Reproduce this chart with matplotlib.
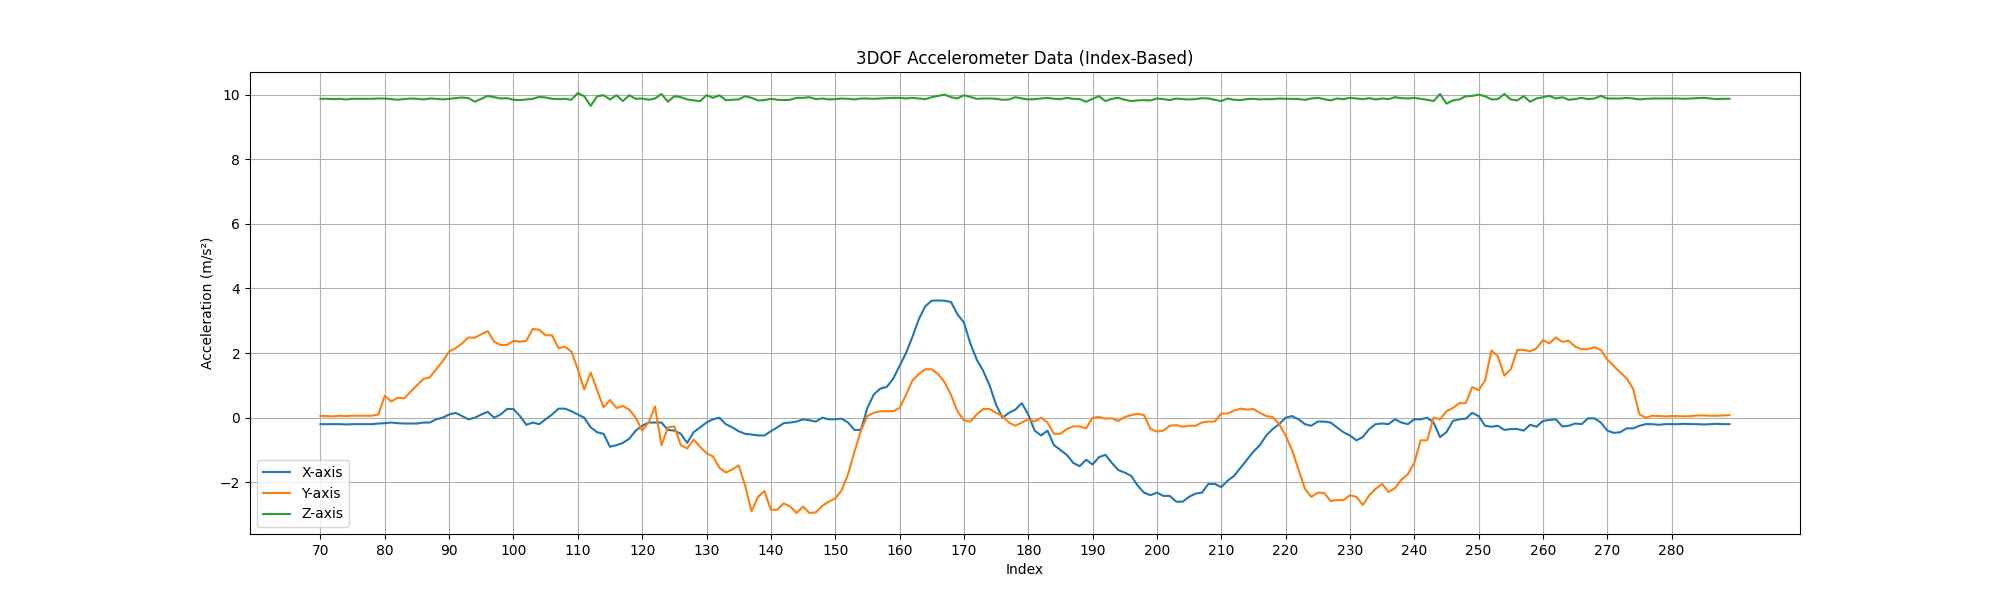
import numpy as np
import matplotlib.pyplot as plt

# Índices de muestra (70..289)
index = np.arange(70, 290)

accel_x = [
    -0.2, -0.2, -0.2, -0.2, -0.21, -0.2, -0.2, -0.2, -0.2, -0.18,
    -0.17, -0.15, -0.17, -0.18, -0.18, -0.18, -0.15, -0.15, -0.05, 0.0,
    0.1, 0.15, 0.05, -0.05, 0.0, 0.1, 0.18, 0.0, 0.1, 0.27,
    0.27, 0.05, -0.22, -0.15, -0.2, -0.05, 0.1, 0.28, 0.28, 0.2,
    0.1, 0.0, -0.3, -0.45, -0.5, -0.9, -0.85, -0.78, -0.65, -0.4,
    -0.25, -0.15, -0.15, -0.15, -0.38, -0.4, -0.5, -0.78, -0.45, -0.3,
    -0.15, -0.05, 0.0, -0.2, -0.3, -0.42, -0.5, -0.52, -0.55, -0.55,
    -0.42, -0.3, -0.17, -0.15, -0.12, -0.05, -0.08, -0.12, 0.0, -0.05,
    -0.05, -0.03, -0.15, -0.38, -0.38, 0.3, 0.72, 0.9, 0.95, 1.2,
    1.6, 2.0, 2.5, 3.05, 3.45, 3.62, 3.63, 3.62, 3.58, 3.2,
    2.95, 2.3, 1.8, 1.45, 1.0, 0.4, 0.0, 0.15, 0.25, 0.45,
    0.1, -0.4, -0.55, -0.4, -0.85, -1.0, -1.15, -1.4, -1.5, -1.3,
    -1.45, -1.22, -1.15, -1.4, -1.62, -1.7, -1.8, -2.1, -2.32, -2.4,
    -2.32, -2.42, -2.42, -2.6, -2.6, -2.45, -2.35, -2.32, -2.05, -2.05,
    -2.15, -1.95, -1.8, -1.55, -1.3, -1.05, -0.85, -0.55, -0.35, -0.2,
    0.0, 0.05, -0.05, -0.2, -0.25, -0.12, -0.12, -0.15, -0.3, -0.45,
    -0.55, -0.7, -0.6, -0.35, -0.2, -0.18, -0.2, -0.05, -0.15, -0.2,
    -0.05, -0.05, 0.0, -0.15, -0.6, -0.45, -0.1, -0.05, -0.03, 0.15,
    0.05, -0.25, -0.28, -0.25, -0.38, -0.35, -0.35, -0.4, -0.22, -0.28,
    -0.1, -0.07, -0.05, -0.27, -0.25, -0.18, -0.2, -0.02, -0.02, -0.15,
    -0.4, -0.47, -0.45, -0.33, -0.33, -0.25, -0.2, -0.2, -0.22, -0.2,
    -0.2, -0.2, -0.19, -0.2, -0.2, -0.21, -0.2, -0.19, -0.2, -0.2,
]

accel_y = [
    0.06, 0.05, 0.04, 0.06, 0.05, 0.06, 0.06, 0.06, 0.06, 0.1,
    0.68, 0.5, 0.62, 0.6, 0.8, 1.0, 1.2, 1.25, 1.5, 1.75,
    2.05, 2.15, 2.3, 2.48, 2.48, 2.58, 2.68, 2.35, 2.25, 2.25,
    2.38, 2.35, 2.38, 2.75, 2.72, 2.55, 2.55, 2.15, 2.2, 2.05,
    1.5, 0.87, 1.4, 0.85, 0.32, 0.55, 0.3, 0.36, 0.25, 0.0,
    -0.4, -0.15, 0.35, -0.85, -0.3, -0.27, -0.85, -0.95, -0.68, -0.9,
    -1.1, -1.2, -1.55, -1.7, -1.6, -1.48, -2.1, -2.9, -2.45, -2.27,
    -2.85, -2.85, -2.65, -2.75, -2.95, -2.75, -2.95, -2.93, -2.73, -2.6,
    -2.5, -2.25, -1.75, -1.05, -0.4, 0.05, 0.15, 0.2, 0.2, 0.2,
    0.3, 0.7, 1.15, 1.35, 1.5, 1.5, 1.35, 1.1, 0.7, 0.2,
    -0.08, -0.12, 0.1, 0.27, 0.27, 0.15, 0.05, -0.15, -0.25, -0.15,
    -0.05, -0.12, 0.0, -0.15, -0.5, -0.5, -0.35, -0.27, -0.27, -0.33,
    0.0, 0.02, -0.03, -0.02, -0.1, 0.02, 0.08, 0.12, 0.08, -0.35,
    -0.43, -0.4, -0.25, -0.23, -0.28, -0.25, -0.25, -0.15, -0.12, -0.12,
    0.13, 0.13, 0.22, 0.28, 0.25, 0.27, 0.15, 0.05, 0.02, -0.2,
    -0.55, -1.0, -1.6, -2.2, -2.45, -2.32, -2.33, -2.58, -2.55, -2.55,
    -2.4, -2.45, -2.7, -2.4, -2.2, -2.05, -2.3, -2.18, -1.92, -1.75,
    -1.4, -0.7, -0.7, 0.0, -0.05, 0.2, 0.3, 0.45, 0.45, 0.95,
    0.85, 1.15, 2.08, 1.9, 1.3, 1.5, 2.1, 2.1, 2.05, 2.15,
    2.4, 2.3, 2.48, 2.35, 2.38, 2.2, 2.12, 2.12, 2.18, 2.1,
    1.8, 1.6, 1.4, 1.22, 0.9, 0.1, 0.0, 0.06, 0.05, 0.04,
    0.05, 0.05, 0.04, 0.05, 0.07, 0.07, 0.06, 0.06, 0.07, 0.08,
]

accel_z = [
    9.87, 9.87, 9.86, 9.87, 9.85, 9.87, 9.87, 9.87, 9.87, 9.88,
    9.88, 9.86, 9.84, 9.86, 9.88, 9.87, 9.85, 9.88, 9.87, 9.85,
    9.87, 9.89, 9.91, 9.89, 9.78, 9.87, 9.96, 9.92, 9.88, 9.89,
    9.84, 9.83, 9.85, 9.87, 9.93, 9.91, 9.87, 9.86, 9.87, 9.84,
    10.05, 9.95, 9.65, 9.95, 9.98, 9.85, 9.98, 9.8, 9.98, 9.87,
    9.88, 9.84, 9.88, 10.02, 9.78, 9.95, 9.92, 9.85, 9.82, 9.8,
    9.98, 9.9, 9.98, 9.83, 9.84, 9.85, 9.95, 9.9, 9.82, 9.83,
    9.87, 9.84, 9.83, 9.84, 9.9, 9.9, 9.92, 9.86, 9.88, 9.85,
    9.86, 9.88, 9.87, 9.85, 9.88, 9.88, 9.87, 9.88, 9.89, 9.9,
    9.9, 9.88, 9.9, 9.88, 9.86, 9.92, 9.96, 10.0, 9.92, 9.88,
    9.98, 9.93, 9.87, 9.88, 9.88, 9.87, 9.84, 9.85, 9.92, 9.88,
    9.85, 9.86, 9.88, 9.9, 9.87, 9.86, 9.9, 9.87, 9.86, 9.78,
    9.87, 9.95, 9.8, 9.87, 9.9, 9.84, 9.8, 9.82, 9.83, 9.82,
    9.88, 9.86, 9.83, 9.88, 9.86, 9.85, 9.86, 9.89, 9.88, 9.84,
    9.8, 9.88, 9.84, 9.83, 9.86, 9.87, 9.85, 9.86, 9.86, 9.88,
    9.87, 9.87, 9.86, 9.84, 9.88, 9.9, 9.86, 9.82, 9.88, 9.86,
    9.9, 9.88, 9.86, 9.89, 9.85, 9.88, 9.86, 9.92, 9.89, 9.88,
    9.9, 9.87, 9.84, 9.8, 10.02, 9.72, 9.82, 9.85, 9.95, 9.96,
    10.0, 9.95, 9.85, 9.86, 10.02, 9.85, 9.82, 9.95, 9.78, 9.88,
    9.92, 9.96, 9.88, 9.92, 9.84, 9.86, 9.9, 9.86, 9.88, 9.96,
    9.88, 9.88, 9.88, 9.9, 9.88, 9.85, 9.87, 9.88, 9.88, 9.88,
    9.88, 9.88, 9.87, 9.88, 9.89, 9.9, 9.88, 9.86, 9.87, 9.87,
]

fig, ax = plt.subplots(figsize=(20, 6), dpi=100)
ax.plot(index, accel_x, label='X-axis')
ax.plot(index, accel_y, label='Y-axis')
ax.plot(index, accel_z, label='Z-axis')
ax.set_title('3DOF Accelerometer Data (Index-Based)')
ax.set_xlabel('Index')
ax.set_ylabel('Acceleration (m/s²)')
ax.set_xticks(np.arange(70, 290, 10))
ax.grid(True)
ax.legend(loc='lower left')
plt.savefig('out.png')
